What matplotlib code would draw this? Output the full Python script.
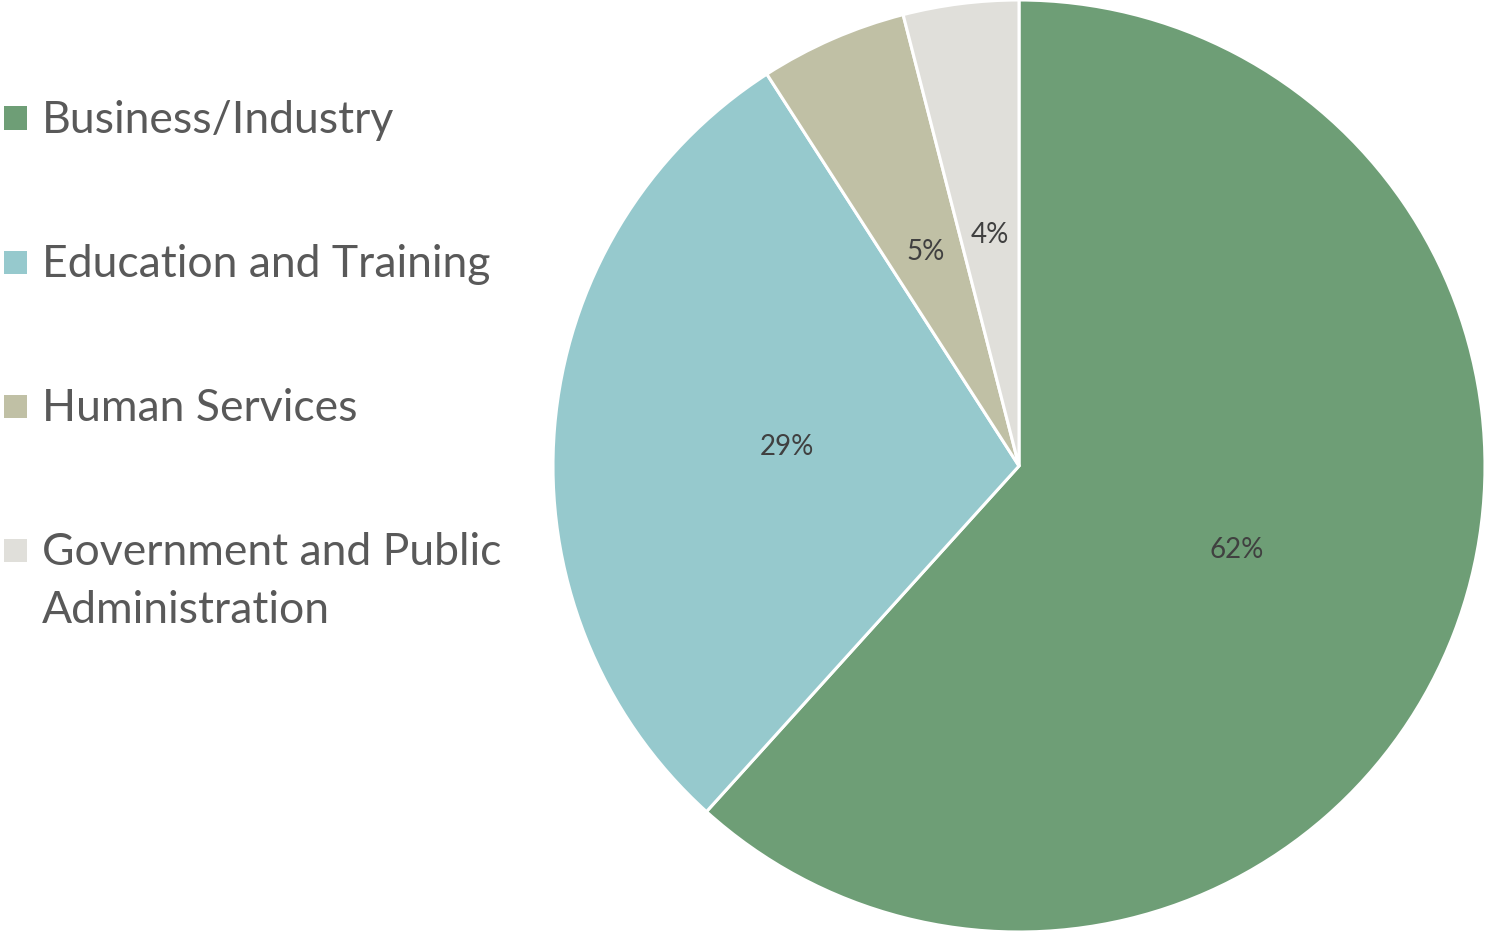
import matplotlib
matplotlib.use("Agg")
import matplotlib.pyplot as plt
from matplotlib.patches import Rectangle

categories = ["Business/Industry", "Education and Training", "Human Services",
              "Government and Public\nAdministration"]
values = [61.7, 29.2, 5.1, 4.0]
colors = ["#6E9E76", "#96C9CD", "#C0C0A5", "#E0DFDA"]

plt.rcParams['font.family'] = ['Lato', 'DejaVu Sans']

W, H = 1488, 933
fig = plt.figure(figsize=(W / 100, H / 100), dpi=100)

# pie axes: center (1019,466) px, radius 466 px
cx, cy, R = 1019, 466, 466
ax = fig.add_axes([(cx - R) / W, (H - cy - R) / H, 2 * R / W, 2 * R / H])
wedges, texts, autotexts = ax.pie(
    values, colors=colors, startangle=90, counterclock=False,
    autopct='%.0f%%', pctdistance=0.5, radius=1.0,
    wedgeprops=dict(edgecolor='white', linewidth=2.2),
    textprops=dict(color='#404040', fontsize=20))
ax.set_xlim(-1, 1)
ax.set_ylim(-1, 1)
ax.set_aspect('equal')
ax.axis('off')

# manual legend (Excel style)
baselines = [133, 277, 421, 565]
line_gap = 58
for lab, col, yb in zip(categories, colors, baselines):
    yc = yb - 15
    fig.patches.append(Rectangle((4 / W, (H - yc - 11.5) / H), 23 / W, 23 / H,
                                 transform=fig.transFigure, facecolor=col,
                                 edgecolor='none'))
    for i, line in enumerate(lab.split('\n')):
        fig.text(42 / W, (H - yb - i * line_gap) / H, line, fontsize=32,
                 color='#595959', ha='left', va='baseline')

fig.savefig("out.png", dpi=100)
